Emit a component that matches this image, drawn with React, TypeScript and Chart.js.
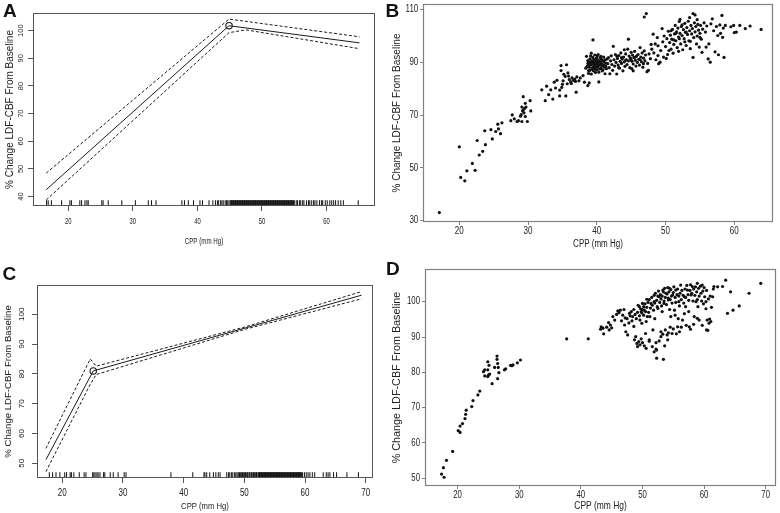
import React, { useEffect, useRef } from "react";
import { Chart, registerables } from "chart.js";

Chart.register(...registerables);

const SANS = "'Liberation Sans', Arial, Helvetica, sans-serif";

const Y_TITLE = "% Change LDF-CBF From Baseline";
const X_TITLE = "CPP (mm Hg)";

// ---------- Panel A (piecewise fit with 95% band + rug) ----------
const aTicksX = [20, 30, 40, 50, 60];
const aTicksY = [40, 50, 60, 70, 80, 90, 100];
const aFitX = [16.6, 44.9, 65.1];
const aFitY = [42.5, 101.8, 95.6];
const aUpperX = [16.6, 44.9, 65.1];
const aUpperY = [48.5, 104.2, 97.8];
const aLowerX = [16.6, 44.9, 47.5, 65.1];
const aLowerY = [38.8, 99.3, 100.3, 93.5];
const aKnot = { x: 44.9, y: 101.8 };
const aRug = [
  16.65, 16.9, 17.4, 18.98, 20.26, 20.5, 21.8, 22.07, 22.6, 22.9, 23.1, 25.2, 25.4, 26.2, 28.3, 30.4,
  32.4, 32.9, 33.6, 37.6, 38.0, 38.6, 39.4, 40.4, 40.8, 41.8, 42.4,
  42.8, 43.1, 43.3, 43.6, 43.8, 44.0, 44.3, 44.5, 44.7, 44.9, 45.1, 45.3, 45.5, 45.6, 45.8, 46.0,
  46.1, 46.3, 46.5, 46.6, 46.8, 47.0, 47.1, 47.3, 47.5, 47.6, 47.8, 48.0, 48.3, 48.5, 48.6, 48.8,
  48.9, 49.1, 49.2, 49.4, 49.5, 49.7, 49.8, 50.0, 50.1, 50.3, 50.4, 50.6, 50.7, 50.9, 51.0, 51.2,
  51.3, 51.5, 51.6, 51.8, 51.9, 52.1, 52.2, 52.4, 52.5, 52.7, 52.8, 53.0, 53.1, 53.3, 53.4, 53.6,
  53.7, 53.9, 54.0, 54.2, 54.4, 54.6, 54.8, 55.0, 55.3, 55.5, 55.8, 56.0, 56.3, 56.5, 56.9, 57.2,
  57.4, 57.7, 58.0, 58.2, 58.5, 58.9, 59.2, 59.4, 59.8, 60.1, 60.5, 60.8, 61.1, 61.4, 61.8, 62.2,
  62.6, 64.9,
  45.2, 45.4, 45.7, 45.9, 46.2, 46.4, 46.7, 46.9, 47.2, 47.4, 47.7, 47.9, 48.1, 48.2, 48.4, 48.7,
  49.0, 49.3, 49.6, 49.9, 50.2, 50.5, 50.8, 51.1, 51.4, 51.7, 52.0, 52.3, 52.6, 52.9, 53.2, 53.5,
  53.8, 54.1, 54.3, 54.5, 54.7, 54.9,
];

// ---------- Panel B (scatter) ----------
const bTicksX = [20, 30, 40, 50, 60];
const bTicksY = [30, 50, 70, 90, 110];
const bPoints = [
  [17.1, 33.1], [20.0, 58.0], [20.2, 46.4], [20.8, 45.1], [21.1, 48.9], [21.9, 51.7], [22.3, 49.1],
  [22.6, 60.4], [22.9, 54.9], [23.4, 56.3], [23.7, 64.1], [23.8, 58.8], [24.6, 64.5], [24.8, 61.0],
  [25.3, 63.8], [25.6, 66.6], [25.7, 64.8], [26.0, 63.0], [26.2, 67.1], [27.5, 67.9], [27.7, 70.1],
  [28.0, 68.6], [28.4, 67.6], [28.6, 67.9], [28.9, 69.6], [29.1, 67.6], [29.3, 77.0], [29.1, 73.1],
  [29.2, 71.6], [29.4, 70.9], [29.5, 72.6], [29.6, 74.5], [29.6, 69.5], [29.7, 73.1], [29.9, 67.6],
  [30.3, 75.5], [30.4, 71.6], [29.0, 70.2], [29.3, 72.0],
  [32.0, 79.6], [32.5, 75.5], [32.7, 81.0], [33.0, 77.8], [33.3, 79.6], [33.6, 76.1], [34.0, 80.3],
  [34.2, 83.2], [34.6, 77.3], [34.6, 79.5], [34.8, 88.8], [34.8, 86.9], [35.0, 81.7], [35.1, 83.0],
  [35.4, 84.7], [35.6, 89.1], [35.7, 81.9], [35.5, 77.3], [36.0, 83.5], [36.2, 82.6], [36.4, 84.1],
  [36.6, 83.2], [36.8, 83.7], [37.0, 78.7], [37.1, 84.5], [37.6, 84.1], [38.0, 85.0], [38.2, 82.5],
  [38.4, 87.8], [38.7, 81.2], [38.8, 85.8], [38.9, 82.2], [35.2, 85.5], [35.9, 84.8], [36.3, 82.0],
  [34.9, 80.5], [33.8, 82.5], [35.8, 86.0], [36.9, 82.8], [37.4, 83.0],
  [38.5, 92.3], [38.7, 90.7], [38.8, 89.4], [38.9, 88.2], [39.0, 91.3], [39.1, 90.1], [39.2, 89.1],
  [39.3, 87.6], [39.4, 91.9], [39.44, 98.5], [39.5, 90.3], [39.6, 88.6], [39.7, 92.8], [39.7, 87.6],
  [39.8, 89.8], [39.9, 91.3], [40.0, 90.0], [40.1, 88.2], [40.1, 92.6], [40.2, 90.7], [40.3, 86.3],
  [40.3, 82.6], [40.4, 89.1], [40.5, 91.6], [40.6, 89.7], [40.6, 87.8], [40.7, 91.1], [40.8, 88.8],
  [41.0, 90.3], [41.0, 92.0], [41.1, 88.2], [41.2, 85.7], [41.3, 89.7], [41.4, 87.6], [41.5, 91.3],
  [38.6, 88.5], [38.8, 86.9], [38.9, 90.0], [39.0, 87.0], [39.1, 92.5], [39.2, 93.5], [39.3, 90.6],
  [39.4, 88.0], [39.5, 86.8], [39.6, 91.2], [39.7, 89.3], [39.8, 90.9], [39.9, 88.4], [40.0, 91.8],
  [40.0, 87.2], [40.1, 89.5], [40.2, 93.0], [40.3, 90.4], [40.4, 87.5], [40.5, 89.0], [40.6, 92.3],
  [40.7, 89.4], [40.8, 90.8], [40.9, 87.2], [41.0, 89.1], [41.2, 91.0], [41.3, 88.5], [39.0, 89.0],
  [39.3, 89.5], [39.6, 90.0], [39.9, 89.7], [40.2, 88.8], [40.5, 90.2], [38.7, 89.6], [39.2, 85.6],
  [39.8, 86.2], [40.8, 86.8],
  [41.6, 89.5], [41.7, 91.8], [41.8, 88.0], [41.9, 85.7], [42.0, 90.6], [42.1, 92.5], [42.2, 89.2],
  [42.3, 87.0], [42.4, 96.1], [42.5, 91.0], [42.6, 88.6], [42.7, 93.0], [42.8, 90.0], [42.9, 85.6],
  [43.0, 91.5], [43.1, 89.0], [43.2, 92.6], [43.3, 87.8], [43.4, 90.4], [43.5, 93.6], [43.6, 89.6],
  [43.7, 91.3], [43.8, 86.8], [43.9, 92.0], [44.0, 90.2], [44.1, 88.5], [44.2, 93.2], [44.3, 91.0],
  [44.4, 89.2], [44.5, 95.0], [44.6, 98.8], [44.6, 90.6], [44.7, 92.4], [44.8, 88.0], [44.9, 91.6],
  [45.0, 93.8], [45.1, 87.6], [45.1, 90.4], [45.2, 92.8], [45.3, 89.4], [45.4, 91.9], [45.5, 94.2],
  [45.6, 90.8], [45.7, 88.6], [45.8, 92.4], [45.9, 90.0], [46.0, 93.0], [46.1, 91.2], [46.2, 89.0],
  [46.3, 95.6], [46.4, 92.0], [46.5, 90.2], [46.6, 93.6], [46.7, 88.2], [46.8, 91.6], [46.9, 94.4],
  [47.0, 90.6], [47.1, 92.8], [47.3, 86.5], [47.4, 89.6], [47.5, 87.0], [47.6, 93.2], [47.8, 91.4],
  [45.0, 91.0], [44.2, 90.8], [43.6, 91.8], [46.3, 91.0], [45.6, 92.0], [42.9, 92.4], [44.0, 94.8],
  [43.2, 88.0], [45.3, 86.8], [46.8, 89.5],
  [46.9, 107.2], [47.2, 108.5],
  [48.0, 95.0], [48.2, 100.7], [48.3, 93.6], [48.5, 97.0], [48.8, 99.4], [48.9, 96.3], [48.9, 92.6],
  [49.2, 90.1], [49.5, 102.8], [49.3, 94.5], [49.6, 97.8], [49.8, 100.0], [50.0, 96.0], [50.1, 91.5],
  [50.2, 99.0], [50.4, 101.8], [50.5, 94.5], [49.0, 89.5], [50.3, 93.0], [48.6, 91.0], [47.9, 96.8],
  [49.7, 92.0],
  [50.6, 97.5], [50.7, 100.3], [50.8, 95.0], [50.9, 98.8], [51.0, 102.5], [51.1, 93.5], [51.2, 96.8],
  [51.3, 100.8], [51.4, 104.0], [51.5, 98.2], [51.6, 101.6], [51.7, 95.6], [51.8, 103.0], [51.9, 99.6],
  [52.0, 105.5], [52.1, 106.3], [52.1, 101.0], [52.2, 97.0], [52.3, 103.6], [52.4, 100.2], [52.5, 94.8],
  [52.6, 102.4], [52.7, 99.0], [52.8, 104.8], [52.9, 101.4], [53.0, 96.4], [53.1, 103.2], [53.2, 100.6],
  [53.3, 105.6], [53.4, 98.2], [53.5, 107.0], [53.5, 102.0], [53.6, 95.2], [53.7, 104.0], [53.8, 100.8],
  [53.9, 102.8], [54.0, 108.5], [54.0, 91.9], [54.1, 99.4], [54.2, 105.0], [54.3, 108.0], [54.3, 101.6],
  [54.4, 103.6], [54.5, 97.0], [54.6, 100.0], [54.7, 104.4], [54.8, 102.2], [54.9, 95.8], [55.0, 101.0],
  [55.1, 104.0], [55.2, 98.8], [55.3, 93.8], [55.4, 102.6], [52.0, 99.0], [51.5, 101.0], [53.0, 101.5],
  [52.4, 104.2], [51.2, 98.5], [50.8, 102.0], [53.6, 98.0], [52.8, 97.8], [51.9, 94.2], [55.0, 99.5],
  [54.6, 106.2],
  [55.6, 105.0], [55.8, 101.5], [56.0, 103.8], [56.2, 91.3], [56.5, 90.1], [56.6, 104.6], [56.8, 106.5],
  [57.0, 102.0], [57.2, 94.0], [57.4, 103.6], [57.7, 92.9], [57.9, 104.2], [58.0, 101.0], [58.2, 107.8],
  [58.3, 99.5], [58.5, 91.9], [58.4, 103.0], [58.7, 104.0], [59.5, 103.5], [59.9, 104.0], [60.0, 101.3],
  [60.3, 101.5], [60.8, 104.0], [61.6, 102.8], [62.3, 103.8], [63.9, 102.5], [56.3, 97.0], [55.9, 95.8],
  [57.6, 100.2],
];

// ---------- Panel C (piecewise fit with 95% band + rug) ----------
const cTicksX = [20, 30, 40, 50, 60, 70];
const cTicksY = [50, 60, 70, 80, 90, 100];
const cFitX = [17.3, 25.1, 69.3];
const cFitY = [51.2, 81.0, 106.4];
const cUpperX = [17.3, 24.6, 25.6, 50, 69.3];
const cUpperY = [55.0, 85.0, 82.6, 95.7, 107.6];
const cLowerX = [17.3, 24.6, 25.6, 50, 69.3];
const cLowerY = [47.2, 76.5, 79.8, 94.9, 105.2];
const cKnot = { x: 25.1, y: 81.0 };
const cRug = [
  17.86, 18.4, 18.96, 19.6, 20.4, 20.7, 21.3, 21.5, 21.9, 22.8, 23.6, 23.9, 25.0, 25.2, 25.4, 25.7,
  25.9, 26.2, 26.8, 27.0, 27.9, 28.4, 29.2, 30.2, 30.5, 37.9, 41.5, 43.35, 43.5, 43.8, 44.3, 44.9,
  45.3, 45.7, 46.0,
  47.1, 47.4, 47.6, 47.9, 48.1, 48.4, 48.6, 48.8, 49.0, 49.2, 49.4, 49.5, 49.7, 49.9, 50.0, 50.2,
  50.3, 50.5, 50.6, 50.8, 50.9, 51.1, 51.2, 51.4, 51.5, 51.7, 51.8, 52.0, 52.1, 52.3, 52.4, 52.6,
  52.7, 52.9, 53.0, 53.2, 53.3, 53.5, 53.6, 53.8, 53.9, 54.1, 54.2, 54.4, 54.5, 54.7, 54.8, 55.0,
  55.1, 55.3, 55.4, 55.6, 55.7, 55.9, 56.0, 56.2, 56.4, 56.6, 56.8, 57.0, 57.2, 57.4, 57.6, 57.9,
  58.1, 58.3, 58.6, 58.8, 59.1, 59.3, 59.6, 59.9, 60.2, 60.5, 60.8, 61.2, 61.6,
  63.0, 63.5, 63.8, 64.1, 64.7, 65.2, 66.9, 68.8,
  52.5, 52.8, 53.1, 53.4, 53.7, 54.0, 54.3, 54.6, 54.9, 55.2, 55.5, 55.8, 56.1, 56.3, 56.5, 56.7,
  56.9, 57.1, 57.3, 57.5, 57.7, 57.8, 58.0, 58.2, 58.4, 58.5, 58.7, 58.9, 59.0, 59.2, 59.4,
];

// ---------- Panel D (scatter) ----------
const dTicksX = [20, 30, 40, 50, 60, 70];
const dTicksY = [50, 60, 70, 80, 90, 100];
const dPoints = [
  [17.4, 51.2], [17.8, 50.3], [17.7, 53.0], [18.2, 55.1], [19.2, 57.6], [20.1, 63.5], [20.4, 63.0],
  [20.4, 64.8], [20.8, 65.5], [21.2, 66.9], [21.3, 68.1], [21.4, 69.3], [22.3, 70.3], [22.5, 72.0],
  [23.3, 73.6], [23.6, 74.7], [25.6, 76.8], [24.2, 80.2], [24.4, 79.0], [24.9, 83.0], [25.1, 82.0],
  [24.9, 80.7], [25.0, 79.2], [25.2, 79.5], [24.9, 78.8], [26.0, 81.4], [26.4, 84.6], [26.4, 83.7],
  [26.5, 82.5], [26.6, 81.4], [26.7, 79.9], [26.5, 78.2], [27.6, 80.7], [27.8, 81.0], [28.6, 82.0],
  [29.0, 82.1], [29.7, 82.7], [30.2, 83.5], [24.4, 80.7], [28.8, 81.9],
  [37.7, 89.5], [41.2, 89.5],
  [43.3, 92.9], [43.6, 92.5], [43.7, 90.9], [44.6, 92.0], [44.5, 94.1], [45.2, 95.8], [45.5, 94.8],
  [46.2, 96.9], [46.4, 97.6], [46.8, 96.2], [47.1, 93.4], [47.3, 91.5], [47.6, 90.6], [47.9, 96.7],
  [48.2, 97.2], [48.4, 95.8], [48.7, 89.2], [48.9, 90.1], [49.1, 88.2], [49.4, 88.7], [49.5, 98.6],
  [49.8, 97.2], [49.9, 93.9], [50.0, 99.5], [50.3, 97.6], [50.5, 91.0], [50.7, 100.7], [50.8, 95.8],
  [51.1, 89.2], [51.4, 99.5], [51.7, 92.0], [51.9, 100.0], [52.2, 88.4], [52.3, 86.3], [52.5, 98.1],
  [52.7, 101.4], [53.0, 90.1], [53.3, 103.3], [53.5, 99.5], [53.7, 92.0], [53.8, 102.4], [54.1, 89.2],
  [54.2, 100.5], [54.4, 103.8], [54.6, 95.8], [54.8, 91.0], [54.9, 101.9], [55.2, 97.6], [55.4, 103.3],
  [55.7, 92.9], [55.9, 100.0], [56.2, 104.7], [56.5, 94.8], [56.8, 101.4], [57.0, 98.6], [57.3, 103.3],
  [57.6, 92.9], [57.9, 101.9], [58.1, 104.3], [58.4, 95.8], [58.7, 100.0], [58.9, 105.2], [59.2, 94.8],
  [59.5, 102.4], [59.7, 104.7], [60.3, 100.0], [60.5, 94.8], [60.8, 93.9], [61.1, 94.4], [61.4, 101.4],
  [61.6, 104.3], [63.0, 104.3], [63.5, 106.1], [63.8, 96.7], [64.3, 102.8], [64.7, 97.6], [65.7, 98.8],
  [67.3, 102.4], [69.2, 105.2],
  [49.2, 87.3], [49.6, 87.8], [50.0, 88.4], [50.6, 86.8], [51.1, 88.8], [51.6, 87.3], [52.2, 86.6],
  [52.7, 88.9], [53.3, 90.8], [53.6, 87.5], [54.2, 91.2], [54.5, 92.8], [52.3, 84.0], [53.4, 83.7],
  [51.9, 85.8], [50.3, 87.5], [49.8, 89.5], [53.0, 91.5], [54.0, 90.6], [55.0, 92.3], [56.0, 91.5],
  [55.5, 90.9], [56.3, 92.8], [57.1, 93.3], [57.8, 92.2], [58.3, 93.6], [59.7, 93.3], [60.4, 92.0],
  [60.9, 95.1], [60.6, 91.9], [58.9, 95.3], [55.8, 95.2],
  [47.5, 95.2], [47.8, 94.0], [48.0, 96.0], [48.3, 94.6], [48.6, 97.8], [48.8, 96.4], [49.0, 95.2],
  [49.2, 97.0], [49.3, 99.0], [49.5, 96.0], [49.7, 98.0], [49.9, 96.8], [50.0, 97.8], [50.2, 98.6],
  [50.2, 96.2], [50.4, 99.4], [50.5, 97.2], [50.7, 98.4], [50.9, 99.8], [51.0, 97.0], [51.1, 100.6],
  [51.3, 98.2], [51.5, 101.2], [51.6, 99.0], [51.8, 97.6], [51.9, 101.8], [52.0, 99.6], [52.1, 102.4],
  [52.3, 100.4], [52.4, 98.6], [52.5, 101.6], [52.6, 103.0], [52.8, 99.8], [52.9, 102.0], [53.0, 100.8],
  [53.1, 98.8], [53.2, 101.6], [53.4, 102.8], [53.5, 100.2], [53.6, 103.8], [53.7, 101.2], [53.9, 99.2],
  [54.0, 102.2], [54.1, 104.0], [54.2, 101.0], [54.3, 102.8], [54.5, 100.6], [54.6, 103.4], [54.7, 101.6],
  [54.8, 99.6], [55.0, 102.6], [55.1, 104.2], [55.3, 101.2], [55.4, 99.8], [55.6, 102.0], [55.7, 103.6],
  [55.9, 101.6], [56.0, 98.8], [56.1, 102.4], [56.3, 100.6], [56.4, 103.2], [56.6, 101.8], [56.7, 99.6],
  [56.9, 103.6], [57.0, 101.2], [57.2, 104.6], [57.4, 102.0], [57.5, 100.4], [57.7, 103.2], [57.8, 104.8],
  [58.0, 102.4], [58.2, 100.2], [58.3, 103.6], [58.5, 101.8], [58.6, 104.2], [58.8, 102.8], [58.9, 100.6],
  [59.1, 103.8], [59.2, 101.6], [59.4, 104.4], [59.6, 100.2], [59.8, 103.0], [60.0, 104.0], [60.1, 101.4],
  [60.4, 103.2], [60.7, 100.8], [61.0, 101.6], [61.2, 98.4], [61.5, 103.6], [62.2, 104.2], [60.3, 98.0],
  [59.9, 99.4], [59.0, 98.6], [57.5, 97.2], [56.8, 96.6], [55.3, 96.2], [54.4, 97.8], [53.2, 97.2],
  [52.0, 95.2], [51.2, 95.8], [50.6, 94.4], [49.6, 94.8], [48.6, 93.0], [47.2, 95.4], [46.6, 94.6],
  [45.8, 96.4], [44.8, 93.4], [44.2, 92.8], [43.2, 92.2], [46.0, 97.4], [47.0, 97.8], [45.0, 92.6],
];

// ---------- helpers ----------
const pairs = (xs: number[], ys: number[]) => xs.map((x, i) => ({ x, y: ys[i] }));

const framePlugin = {
  id: "frame",
  afterDatasetsDraw(chart: any, _args: any, opts: any) {
    const a = chart.chartArea;
    const ctx = chart.ctx;
    ctx.save();
    ctx.strokeStyle = opts.color;
    ctx.lineWidth = opts.width;
    const l = Math.round(a.left) + 0.5;
    const t = Math.round(a.top) + 0.5;
    const r = Math.round(a.right) - 0.5;
    const b = Math.round(a.bottom) - 0.5;
    ctx.strokeRect(l, t, r - l, b - t);
    ctx.restore();
  },
};

// Horizontal text in the reference is condensed; narrow unrotated labels around their anchor.
const condensePlugin = {
  id: "condense",
  beforeDraw(chart: any, _args: any, opts: any) {
    const ctx = chart.ctx;
    if (ctx.__origFillText) return;
    const orig = ctx.fillText;
    ctx.__origFillText = orig;
    const sx = opts.factor || 1;
    ctx.fillText = function (text: string, x: number, y: number, maxWidth?: number) {
      const m = ctx.getTransform();
      const rotated = Math.abs(m.b) > 1e-6 || Math.abs(m.c) > 1e-6;
      if (rotated || sx === 1) {
        if (maxWidth === undefined) return orig.call(ctx, text, x, y);
        return orig.call(ctx, text, x, y, maxWidth);
      }
      const p = m.transformPoint(new DOMPoint(x, y));
      ctx.save();
      ctx.setTransform(new DOMMatrix().translate(p.x, p.y).scale(sx, 1).translate(-p.x, -p.y).multiply(m));
      if (maxWidth === undefined) orig.call(ctx, text, x, y);
      else orig.call(ctx, text, x, y, maxWidth / sx);
      ctx.restore();
    };
  },
  afterDraw(chart: any) {
    const ctx = chart.ctx;
    if (ctx.__origFillText) {
      ctx.fillText = ctx.__origFillText;
      ctx.__origFillText = null;
    }
  },
};

const LINE = "#1a1a1a";

function fitLine(xs: number[], ys: number[], dash: number[]) {
  return {
    data: pairs(xs, ys),
    showLine: true,
    borderColor: LINE,
    borderWidth: 1,
    borderDash: dash,
    pointRadius: 0,
    fill: false,
    tension: 0,
  };
}

function rug(values: number[], yRange: number[]) {
  const yPos = yRange[0] + (yRange[1] - yRange[0]) * 0.015;
  return {
    data: values.map((v) => ({ x: v, y: yPos })),
    showLine: false,
    pointStyle: "line",
    pointRotation: 90,
    pointRadius: 2.9,
    pointBorderColor: "#111",
    pointBorderWidth: 1,
  };
}

function knot(p: { x: number; y: number }) {
  return {
    data: [p],
    showLine: false,
    pointStyle: "circle",
    pointRadius: 3.2,
    pointBorderWidth: 1.1,
    pointBorderColor: LINE,
    pointBackgroundColor: "rgba(0,0,0,0)",
  };
}

function dots(pts: number[][]) {
  return {
    data: pts.map(([x, y]) => ({ x, y })),
    showLine: false,
    pointStyle: "circle",
    pointRadius: 1.6,
    pointBorderWidth: 0,
    pointBackgroundColor: "#111",
  };
}

type Spec = {
  left: number; top: number; width: number; height: number;
  area: { l: number; r: number; t: number; b: number };
  xRange: number[]; yRange: number[];
  xTicks: number[]; yTicks: number[];
  rStyle: boolean;
  frameColor: string; frameWidth: number;
  condense: number;
  xTickSize: number; yTickSize: number; xTickPad: number; yTickPad: number;
  xTitleSize: number; xTitlePad: number;
  yTitleSize: number; yTitlePad: number;
};

function buildConfig(p: Spec, datasets: any[]) {
  const tl = p.rStyle ? 5 : 3;
  const zeroPad = (s: any) => {
    s.paddingLeft = 0; s.paddingRight = 0; s.paddingTop = 0; s.paddingBottom = 0;
  };
  return {
    type: "scatter",
    data: { datasets },
    plugins: [framePlugin, condensePlugin],
    options: {
      animation: false,
      responsive: false,
      devicePixelRatio: 1,
      events: [],
      layout: { padding: { left: 0, top: p.area.t, right: p.width - p.area.r, bottom: 0 } },
      plugins: {
        legend: { display: false },
        tooltip: { enabled: false },
        frame: { color: p.frameColor, width: p.frameWidth },
        condense: { factor: p.condense },
      },
      scales: {
        x: {
          type: "linear",
          position: "bottom",
          bounds: "data",
          min: p.xRange[0],
          max: p.xRange[1],
          afterBuildTicks: (s: any) => { s.ticks = p.xTicks.map((v) => ({ value: v })); },
          afterFit: (s: any) => { s.height = p.height - p.area.b; zeroPad(s); },
          grid: { display: true, drawOnChartArea: false, drawTicks: true, tickLength: tl, tickColor: p.frameColor, tickWidth: 1 },
          border: { display: false },
          ticks: {
            autoSkip: false, maxRotation: 0, minRotation: 0, padding: p.xTickPad, color: "#222",
            font: { family: SANS, size: p.xTickSize },
          },
          title: {
            display: true, text: X_TITLE, color: "#222",
            font: { family: SANS, size: p.xTitleSize },
            padding: { top: 0, bottom: p.xTitlePad },
          },
        },
        y: {
          type: "linear",
          position: "left",
          bounds: "data",
          min: p.yRange[0],
          max: p.yRange[1],
          afterBuildTicks: (s: any) => { s.ticks = p.yTicks.map((v) => ({ value: v })); },
          afterFit: (s: any) => { s.width = p.area.l; zeroPad(s); },
          grid: { display: true, drawOnChartArea: false, drawTicks: true, tickLength: tl, tickColor: p.frameColor, tickWidth: 1 },
          border: { display: false },
          ticks: p.rStyle
            ? {
                autoSkip: false, minRotation: 90, maxRotation: 90, crossAlign: "center",
                padding: p.yTickPad, color: "#222", font: { family: SANS, size: p.yTickSize },
              }
            : {
                autoSkip: false, padding: p.yTickPad, color: "#222",
                font: { family: SANS, size: p.yTickSize },
              },
          title: {
            display: true, text: Y_TITLE, color: "#222",
            font: { family: SANS, size: p.yTitleSize },
            padding: { top: p.yTitlePad, bottom: 0 },
          },
        },
      },
    },
  };
}

const specA: Spec = {
  left: 0, top: 0, width: 390, height: 256,
  area: { l: 33, r: 375, t: 13, b: 206 },
  xRange: [14.55, 67.5], yRange: [36.6, 106.4],
  xTicks: aTicksX, yTicks: aTicksY, rStyle: true,
  frameColor: "#555", frameWidth: 1, condense: 0.65,
  xTickSize: 9, yTickSize: 7.5, xTickPad: 5.3, yTickPad: 0.8,
  xTitleSize: 9.5, xTitlePad: 8.6, yTitleSize: 10, yTitlePad: 4,
};

const specB: Spec = {
  left: 390, top: 0, width: 390, height: 256,
  area: { l: 33, r: 383, t: 1, b: 222 },
  xRange: [14.72, 65.63], yRange: [29.51, 112.13],
  xTicks: bTicksX, yTicks: bTicksY, rStyle: false,
  frameColor: "#808080", frameWidth: 1.2, condense: 0.8,
  xTickSize: 10, yTickSize: 10, xTickPad: 0.7, yTickPad: 1.7,
  xTitleSize: 10, xTitlePad: 5.7, yTitleSize: 10, yTitlePad: 1,
};

const specC: Spec = {
  left: 0, top: 256, width: 390, height: 257,
  area: { l: 37, r: 373, t: 29, b: 222 },
  xRange: [15.83, 71.2], yRange: [45.07, 109.83],
  xTicks: cTicksX, yTicks: cTicksY, rStyle: true,
  frameColor: "#555", frameWidth: 1, condense: 0.8,
  xTickSize: 10, yTickSize: 8, xTickPad: 4.3, yTickPad: 3.1,
  xTitleSize: 9.6, xTitlePad: 1.2, yTitleSize: 9.6, yTitlePad: 2.2,
};

const specD: Spec = {
  left: 390, top: 256, width: 390, height: 257,
  area: { l: 35, r: 387, t: 13, b: 230 },
  xRange: [14.71, 71.67], yRange: [47.82, 109.26],
  xTicks: dTicksX, yTicks: dTicksY, rStyle: false,
  frameColor: "#808080", frameWidth: 1.2, condense: 0.78,
  xTickSize: 10, yTickSize: 10, xTickPad: 0.3, yTickPad: 2,
  xTitleSize: 10.8, xTitlePad: 0, yTitleSize: 10.8, yTitlePad: 0.2,
};

const datasetsA = [
  fitLine(aUpperX, aUpperY, [3, 2]),
  fitLine(aLowerX, aLowerY, [3, 2]),
  fitLine(aFitX, aFitY, []),
  knot(aKnot),
  rug(aRug, specA.yRange),
];
const datasetsB = [dots(bPoints)];
const datasetsC = [
  fitLine(cUpperX, cUpperY, [3, 2]),
  fitLine(cLowerX, cLowerY, [3, 2]),
  fitLine(cFitX, cFitY, []),
  knot(cKnot),
  rug(cRug, specC.yRange),
];
const datasetsD = [dots(dPoints)];

function Panel({ spec, datasets }: { spec: Spec; datasets: any[] }) {
  const ref = useRef<HTMLCanvasElement>(null);
  useEffect(() => {
    const chart = new Chart(ref.current as HTMLCanvasElement, buildConfig(spec, datasets) as any);
    return () => chart.destroy();
  }, []);
  return (
    <canvas
      ref={ref}
      width={spec.width}
      height={spec.height}
      style={{ position: "absolute", left: spec.left, top: spec.top, width: spec.width, height: spec.height }}
    />
  );
}

const letterStyle = (left: number, top: number): React.CSSProperties => ({
  position: "absolute",
  left,
  top,
  font: `bold 19px ${SANS}`,
  lineHeight: "19px",
  color: "#111",
});

export default function App() {
  return (
    <div style={{ position: "fixed", left: 0, top: 0, width: 780, height: 513, background: "#fff", overflow: "hidden" }}>
      <Panel spec={specA} datasets={datasetsA} />
      <Panel spec={specB} datasets={datasetsB} />
      <Panel spec={specC} datasets={datasetsC} />
      <Panel spec={specD} datasets={datasetsD} />
      <div style={letterStyle(3, 1)}>A</div>
      <div style={letterStyle(385.5, 1)}>B</div>
      <div style={letterStyle(2.5, 263.5)}>C</div>
      <div style={letterStyle(386, 258.5)}>D</div>
    </div>
  );
}
